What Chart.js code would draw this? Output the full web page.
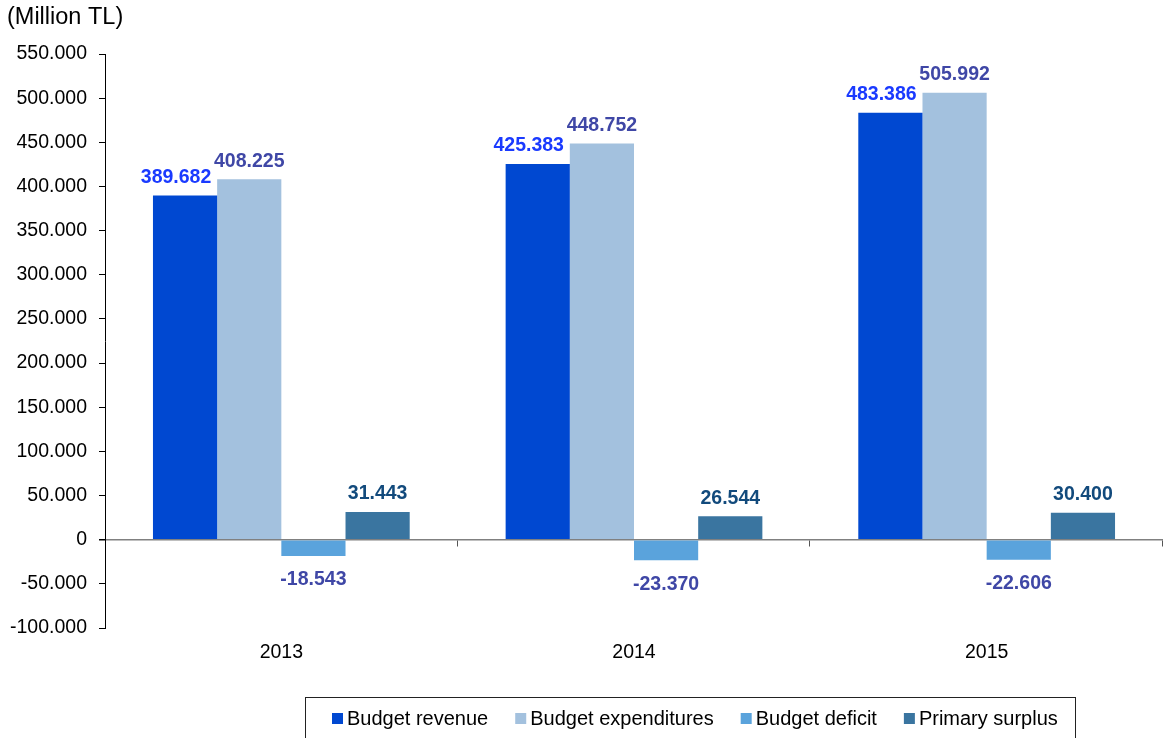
<!DOCTYPE html>
<html>
<head>
<meta charset="utf-8">
<script src="https://cdn.jsdelivr.net/npm/chart.js@4.4.1/dist/chart.umd.min.js"></script>
<style>
  html, body { margin: 0; padding: 0; background: #ffffff; }
  #wrap { position: relative; width: 1166px; height: 738px; }
</style>
</head>
<body>
<div id="wrap"><canvas id="budgetChart" width="1166" height="738"></canvas></div>
<script>
// --- DATA ---
const years = ['2013', '2014', '2015'];
const budgetRevenue = [389682, 425383, 483386];
const budgetExpenditures = [408225, 448752, 505992];
const budgetDeficit = [-18543, -23370, -22606];
const primarySurplus = [31443, 26544, 30400];
const yTicks = [-100000, -50000, 0, 50000, 100000, 150000, 200000, 250000, 300000, 350000, 400000, 450000, 500000, 550000];
const unitTitle = '(Million TL)';

const FONT = "'Liberation Sans', Arial, sans-serif";

// sayi formati: 389682 -> 389.682
const fmt = v => {
    const s = Math.abs(v).toString().replace(/\B(?=(\d{3})+(?!\d))/g, '.');
    return (v < 0 ? '-' : '') + s;
};

// --- PLUGIN: label nilai di atas / bawah bar ---
const valueLabels = {
    id: 'valueLabels',
    afterDatasetsDraw(chart) {
        const ctx = chart.ctx;
        ctx.save();
        ctx.font = `bold 19.5px ${FONT}`;
        ctx.textAlign = 'center';
        ctx.textBaseline = 'middle';
        chart.data.datasets.forEach((ds, i) => {
            const meta = chart.getDatasetMeta(i);
            meta.data.forEach((bar, j) => {
                const v = ds.data[j];
                const y = v >= 0 ? bar.y - 18 : bar.y + 24;
                ctx.fillStyle = ds.labelColor;
                ctx.fillText(fmt(v), bar.x + (ds.labelShift || 0), y);
            });
        });
        ctx.restore();
    }
};

// --- PLUGIN: tick kategori di garis nol, judul satuan, legend kotak ---
const decorations = {
    id: 'decorations',
    afterDraw(chart) {
        const ctx = chart.ctx;
        const x = chart.scales.x, y = chart.scales.y;
        const y0 = Math.round(y.getPixelForValue(0)) + 0.5;
        const step = (x.right - x.left) / years.length;

        ctx.save();
        ctx.strokeStyle = '#555555';
        ctx.lineWidth = 1;
        for (let i = 1; i <= years.length; i++) {
            const px = Math.round(x.left + i * step) - 0.5;
            ctx.beginPath();
            ctx.moveTo(px, y0);
            ctx.lineTo(px, y0 + 6);
            ctx.stroke();
        }

        // judul satuan
        ctx.fillStyle = '#000000';
        ctx.font = `23.5px ${FONT}`;
        ctx.textAlign = 'left';
        ctx.textBaseline = 'middle';
        ctx.fillText(unitTitle, 7, 18);

        // legend dengan bingkai
        ctx.strokeStyle = '#222222';
        ctx.strokeRect(305.5, 697.5, 770, 42);
        ctx.font = `20px ${FONT}`;
        let lx = 332;
        chart.data.datasets.forEach(ds => {
            ctx.fillStyle = ds.backgroundColor;
            ctx.fillRect(lx, 713, 11, 11);
            ctx.fillStyle = '#000000';
            ctx.fillText(ds.label, lx + 15, 719);
            lx += 15 + ctx.measureText(ds.label).width + 27;
        });
        ctx.restore();
    }
};

document.addEventListener('DOMContentLoaded', function() {
    const ctx = document.getElementById('budgetChart').getContext('2d');

    new Chart(ctx, {
        type: 'bar',
        data: {
            labels: years,
            datasets: [
                { label: 'Budget revenue', data: budgetRevenue, backgroundColor: '#0048d1', labelColor: '#1a3aff', labelShift: -9 },
                { label: 'Budget expenditures', data: budgetExpenditures, backgroundColor: '#a3c1de', labelColor: '#3f47a6' },
                { label: 'Budget deficit', data: budgetDeficit, backgroundColor: '#5aa3dc', labelColor: '#3f47a6' },
                { label: 'Primary surplus', data: primarySurplus, backgroundColor: '#3a75a0', labelColor: '#124a7c' }
            ]
        },
        options: {
            responsive: false,
            animation: false,
            categoryPercentage: 0.728,
            barPercentage: 1,
            layout: { padding: { top: 54, right: 3, bottom: 70, left: 0 } },
            plugins: {
                legend: { display: false },
                tooltip: { enabled: false }
            },
            scales: {
                x: {
                    grid: { display: false, drawTicks: false },
                    border: { display: false },
                    ticks: { color: '#000000', font: { family: FONT, size: 19.5 }, padding: 13 },
                    afterFit: s => { s.height = 40; }
                },
                y: {
                    min: -100000,
                    max: 550000,
                    afterBuildTicks: s => { s.ticks = yTicks.map(v => ({ value: v })); },
                    grid: {
                        drawOnChartArea: true,
                        color: c => (c.tick && c.tick.value === 0) ? '#808080' : 'rgba(0,0,0,0)',
                        lineWidth: c => (c.tick && c.tick.value === 0) ? 1.5 : 1,
                        tickColor: '#000000',
                        tickLength: 6
                    },
                    border: { color: '#000000', width: 1 },
                    ticks: {
                        color: '#000000',
                        font: { family: FONT, size: 19.5 },
                        padding: 12,
                        callback: v => fmt(v)
                    },
                    afterFit: s => { s.width = 105; }
                }
            }
        },
        plugins: [valueLabels, decorations]
    });
});
</script>
</body>
</html>
